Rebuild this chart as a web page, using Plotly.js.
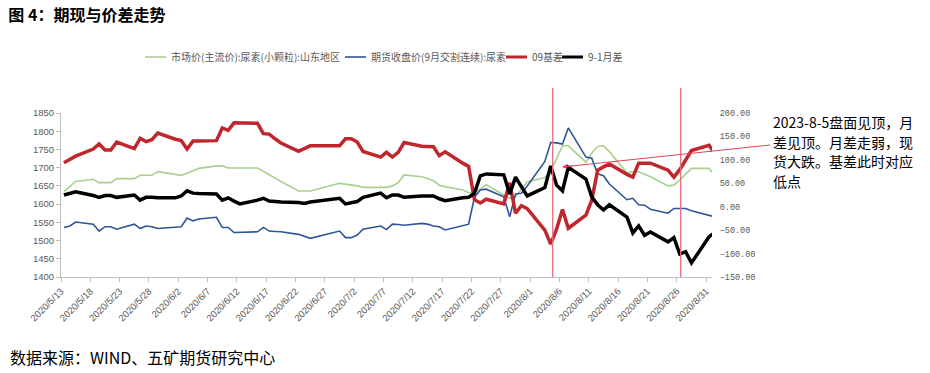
<!DOCTYPE html>
<html><head><meta charset="utf-8">
<script src="https://cdn.plot.ly/plotly-3.0.1.min.js"></script>
<style>html,body{margin:0;padding:0;background:#fff}#chart{width:930px;height:373px}</style>
</head><body><div id="chart"></div>
<script>
// ---- data ----
const dates = [
 '2020-05-13','2020-05-14','2020-05-15','2020-05-18','2020-05-19','2020-05-20','2020-05-21','2020-05-22','2020-05-25','2020-05-26','2020-05-27','2020-05-28','2020-05-29',
 '2020-06-01','2020-06-02','2020-06-03','2020-06-04','2020-06-05','2020-06-08','2020-06-09','2020-06-10','2020-06-11','2020-06-12','2020-06-15','2020-06-16','2020-06-17','2020-06-18','2020-06-19','2020-06-22','2020-06-23','2020-06-24','2020-06-29','2020-06-30',
 '2020-07-01','2020-07-02','2020-07-03','2020-07-06','2020-07-07','2020-07-08','2020-07-09','2020-07-10','2020-07-13','2020-07-14','2020-07-15','2020-07-16','2020-07-17','2020-07-20','2020-07-21','2020-07-22','2020-07-23','2020-07-24','2020-07-27','2020-07-28','2020-07-29','2020-07-30','2020-07-31',
 '2020-08-03','2020-08-04','2020-08-05','2020-08-06','2020-08-07','2020-08-10','2020-08-11','2020-08-12','2020-08-13','2020-08-14','2020-08-17','2020-08-18','2020-08-19','2020-08-20','2020-08-21','2020-08-24','2020-08-25','2020-08-26','2020-08-27','2020-08-28','2020-08-31',
 '2020-09-01'
];
const spotPrice = [
 1634,1648,1662,1668,1659,1659,1659,1670,1670,1679,1679,1679,1689,
 1682,1679,1685,1692,1698,1705,1705,1699,1699,1699,1699,1690,1680,1671,1662,1636,1636,1636,1657,1655,
 1652,1650,1646,1646,1646,1650,1659,1680,1675,1670,1664,1652,1648,1639,1631,1631,1643,1653,1625,1616,1620,1640,1661,
 1673,1690,1725,1760,1760,1715,1740,1758,1760,1744,1686,1689,1689,1682,1675,1650,1652,1666,1682,1698,1698,
 1680
];
const futuresPrice = [
 1536,1540,1551,1545,1526,1538,1538,1531,1545,1533,1540,1538,1533,
 1536,1538,1562,1554,1559,1564,1536,1536,1522,1523,1524,1536,1526,1525,1524,1517,1511,1506,1526,1508,
 1508,1515,1531,1540,1530,1545,1544,1542,1547,1545,1540,1538,1529,1541,1545,1619,1639,1641,1620,1565,1628,1630,1650,
 1717,1769,1768,1765,1809,1729,1726,1683,1678,1655,1612,1616,1598,1597,1586,1575,1588,1588,1588,1582,1568,
 1565
];
const basis09 = [
 94,101,108,123,134,121,121,138,124,146,139,143,157,
 144,141,123,140,140,141,168,163,179,179,178,156,155,145,136,118,124,130,130,145,
 145,138,118,106,116,106,116,137,129,129,128,109,117,93,86,15,8,16,6,51,-14,2,-4,
 -50,-80,-48,-6,-46,-18,14,78,85,91,69,63,93,93,93,78,63,79,99,120,131,
 113
];
const spread91 = [
 25,29,32,24,20,24,24,20,25,14,20,20,19,
 19,23,34,29,28,27,14,19,12,6,14,18,12,11,10,9,7,10,18,6,
 8,11,20,29,19,25,25,20,23,23,23,17,13,19,20,29,66,70,68,27,63,43,23,
 41,87,46,34,84,59,21,4,-7,4,-22,-56,-41,-61,-54,-75,-66,-101,-96,-120,-64,
 -55
];
const seriesNames = ['市场价(主流价):尿素(小颗粒):山东地区','期货收盘价(9月交割连续):尿素','09基差','9-1月差'];
const seriesColors = ['#A9D08E','#2F5597','#C0272D','#000000'];
const seriesWidths = [1.6, 1.6, 3.5, 3.5];
const tickLabels = ['2020/5/13','2020/5/18','2020/5/23','2020/5/28','2020/6/2','2020/6/7','2020/6/12','2020/6/17','2020/6/22','2020/6/27','2020/7/2','2020/7/7','2020/7/12','2020/7/17','2020/7/22','2020/7/27','2020/8/1','2020/8/6','2020/8/11','2020/8/16','2020/8/21','2020/8/26','2020/8/31'];
const noteLines = ['2023-8-5盘面见顶，月','差见顶。月差走弱，现','货大跌。基差此时对应','低点'];

// ticks sit on the slot boundary (half a day before each date)
function shiftHalfDay(lbl){
  const p = lbl.split('/').map(Number);
  const t = Date.UTC(p[0], p[1]-1, p[2]) - 12*3600*1000;
  return new Date(t).toISOString().slice(0,19).replace('T',' ');
}
const tickVals = tickLabels.map(shiftHalfDay);

const traces = [
  {x: dates, y: spotPrice, name: seriesNames[0], type:'scatter', mode:'lines', line:{color:seriesColors[0], width:seriesWidths[0]}, yaxis:'y'},
  {x: dates, y: futuresPrice, name: seriesNames[1], type:'scatter', mode:'lines', line:{color:seriesColors[1], width:seriesWidths[1]}, yaxis:'y'},
  {x: dates, y: basis09, name: seriesNames[2], type:'scatter', mode:'lines', line:{color:seriesColors[2], width:seriesWidths[2]}, yaxis:'y2'},
  {x: dates, y: spread91, name: seriesNames[3], type:'scatter', mode:'lines', line:{color:seriesColors[3], width:seriesWidths[3]}, yaxis:'y2'}
];

// custom legend (compact line keys, as in the reference)
const PL = 61, PW = 651, PB = 277, PH = 164;
const px2x = p => (p - PL) / PW;
const px2y = p => (PB - p) / PH;
const legendKeyX = [145, 345, 506, 562];
const legendY = 57;
const legendShapes = legendKeyX.map((k, i) => ({type:'line', xref:'paper', yref:'paper',
  x0: px2x(k), x1: px2x(k + 21), y0: px2y(legendY), y1: px2y(legendY),
  line:{color: seriesColors[i], width: i < 2 ? 1.6 : 3}}));
const legendTexts = legendKeyX.map((k, i) => ({xref:'paper', yref:'paper', x: px2x(k + 24), y: px2y(legendY),
  xanchor:'left', yanchor:'middle', showarrow:false, text: seriesNames[i],
  font:{family:'Noto Sans CJK SC, sans-serif', size:10, color:'#595959'}}));
const noteY = [122, 141.5, 161, 180.5];
const noteTexts = noteLines.map((t, i) => ({xref:'paper', yref:'paper', x: px2x(772), y: px2y(noteY[i]),
  xanchor:'left', yanchor:'middle', showarrow:false, borderpad:0, text:t,
  font:{family:'Noto Sans CJK SC, sans-serif', size:14, color:'#000000'}}));

const layout = {
  width: 930, height: 373,
  margin: {l:PL, r:930-PL-PW, t:PB-PH, b:373-PB, pad:0},
  paper_bgcolor:'#ffffff', plot_bgcolor:'#ffffff',
  font: {family:'Noto Sans CJK SC, Liberation Sans, sans-serif', color:'#595959', size:10},
  title: {text:'<b>图 4：期现与价差走势</b>', xref:'container', x:0.009, xanchor:'left', yref:'container', y:0.958, yanchor:'middle',
          font:{family:'Noto Sans CJK SC, sans-serif', size:16, color:'#000000'}},
  showlegend: false,
  xaxis: {type:'date', range:[shiftHalfDay('2020/5/13'), '2020-08-31 12:00:00'], tickmode:'array', tickvals:tickVals, ticktext:tickLabels,
          tickangle:-45, ticks:'outside', ticklen:4, tickcolor:'#BFBFBF', showline:true, linecolor:'#BFBFBF', linewidth:1,
          showgrid:false, zeroline:false, tickfont:{family:'Liberation Sans, sans-serif', size:9.5, color:'#595959'}},
  yaxis: {range:[1400,1850], tick0:1400, dtick:50, ticks:'outside', ticklen:4, tickcolor:'#BFBFBF', showline:true, linecolor:'#BFBFBF',
          linewidth:1, showgrid:false, zeroline:false, tickfont:{family:'Liberation Sans, sans-serif', size:9.5, color:'#595959'}},
  yaxis2: {overlaying:'y', side:'right', range:[-150,200], tick0:-150, dtick:50, tickformat:'.2f', ticks:'outside', ticklen:5,
           tickcolor:'rgba(0,0,0,0)', showline:false, showgrid:false, zeroline:false,
           tickfont:{family:'Liberation Mono, monospace', size:8.5, color:'#595959'}},
  shapes: [
    {type:'line', xref:'paper', yref:'paper', x0:px2x(552.7), x1:px2x(552.7), y0:0, y1:px2y(88), line:{color:'#E8707E', width:1.3}},
    {type:'line', xref:'paper', yref:'paper', x0:px2x(680.7), x1:px2x(680.7), y0:0, y1:px2y(88), line:{color:'#E8707E', width:1.3}},
    // arrow shaft from the note to the marked point
    {type:'line', xref:'paper', yref:'paper', x0:px2x(565), y0:px2y(166.7), x1:px2x(770), y1:px2y(145), line:{color:'#E0405A', width:1}}
  ].concat(legendShapes),
  annotations: [
    // short arrow head at the marked point
    {xref:'paper', yref:'paper', x:px2x(562), y:px2y(167), ax:12, ay:-1.3, axref:'pixel', ayref:'pixel',
     text:'', showarrow:true, arrowhead:2, arrowsize:1, arrowwidth:1, arrowcolor:'#E0405A'},
    {xref:'paper', yref:'paper', x:px2x(8), y:px2y(357), xanchor:'left', yanchor:'middle', showarrow:false,
     text:'数据来源：WIND、五矿期货研究中心', font:{family:'Noto Sans CJK SC, sans-serif', size:16, color:'#000000'}}
  ].concat(noteTexts, legendTexts)
};

Plotly.newPlot('chart', traces, layout, {displayModeBar:false, staticPlot:true});
</script>
</body></html>
